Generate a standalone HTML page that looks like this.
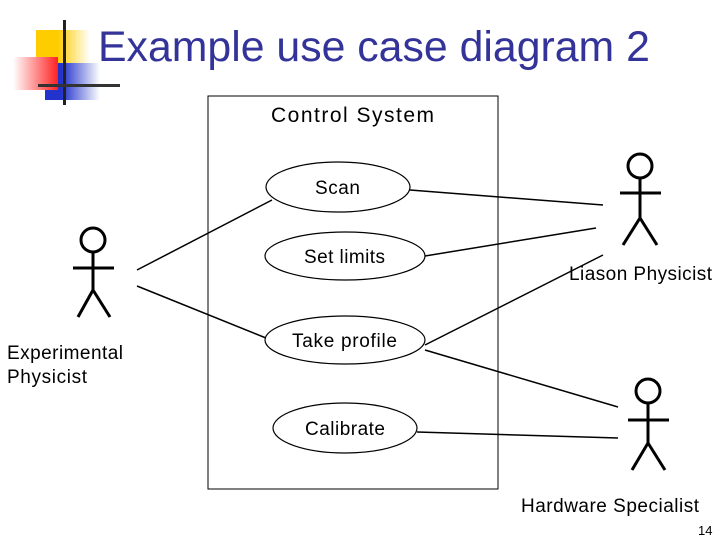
<!DOCTYPE html>
<html><head><style>
body{margin:0;width:720px;height:540px;background:#fff;position:relative;overflow:hidden;font-family:"Liberation Sans",sans-serif}
.a{position:absolute}
</style></head><body>
<div class="a" style="left:36px;top:30px;width:54px;height:40px;background:linear-gradient(to right,#fc0 40%,#fff)"></div>
<div class="a" style="left:45px;top:63px;width:55px;height:37px;background:linear-gradient(to right,#2233cc 30%,#fff)"></div>
<div class="a" style="left:13px;top:57px;width:45px;height:33px;background:linear-gradient(to left,#f22,#fff)"></div>
<div class="a" style="left:63px;top:20px;width:3px;height:85px;background:#222"></div>
<div class="a" style="left:38px;top:84px;width:82px;height:3px;background:#333"></div>
<div class="a" style="left:98px;top:23px;font-size:42.8px;color:#333399;white-space:nowrap">Example use case diagram 2</div>
<svg class="a" style="left:0;top:0" width="720" height="540" font-family="Liberation Sans, sans-serif" font-size="19">
<rect x="208" y="96" width="290" height="393" fill="none" stroke="#000" stroke-width="1"/>
<text x="271" y="122" font-size="21" textLength="163">Control System</text>
<g fill="#fff" stroke="#000" stroke-width="1.2">
<ellipse cx="338" cy="187" rx="72" ry="25"/>
<ellipse cx="345" cy="256" rx="80" ry="24"/>
<ellipse cx="345" cy="340" rx="80" ry="24"/>
<ellipse cx="345" cy="428" rx="72" ry="25"/>
</g>
<text x="315" y="194" textLength="45">Scan</text>
<text x="304" y="263" textLength="81">Set limits</text>
<text x="292" y="347" textLength="105">Take profile</text>
<text x="305" y="435" textLength="80">Calibrate</text>
<g stroke="#000" stroke-width="1.5" fill="none">
<line x1="137" y1="270" x2="272" y2="200"/>
<line x1="137" y1="286" x2="266" y2="338"/>
<line x1="410" y1="190" x2="603" y2="205"/>
<line x1="425" y1="256" x2="596" y2="228"/>
<line x1="425" y1="345" x2="603" y2="255"/>
<line x1="425" y1="350" x2="618" y2="407"/>
<line x1="417" y1="432" x2="618" y2="438"/>
<circle cx="93" cy="240" r="12" stroke-width="3"/>
<path d="M93 252V290M73 268H114M93 290L78 317M93 290L110 317" stroke-width="3"/>
<circle cx="640" cy="166" r="12" stroke-width="3"/>
<path d="M640 178V218M620 193H661M640 218L623 245M640 218L657 245" stroke-width="3"/>
<circle cx="648" cy="391" r="12" stroke-width="3"/>
<path d="M648 403V443M628 420H669M648 443L632 470M648 443L665 470" stroke-width="3"/>
</g>
<text x="569" y="280" textLength="143">Liason Physicist</text>
<text x="7" y="359" textLength="116">Experimental</text>
<text x="7" y="383" textLength="80">Physicist</text>
<text x="521" y="512" textLength="178">Hardware Specialist</text>
<text x="698" y="535" font-size="13">14</text>
</svg>
</body></html>
